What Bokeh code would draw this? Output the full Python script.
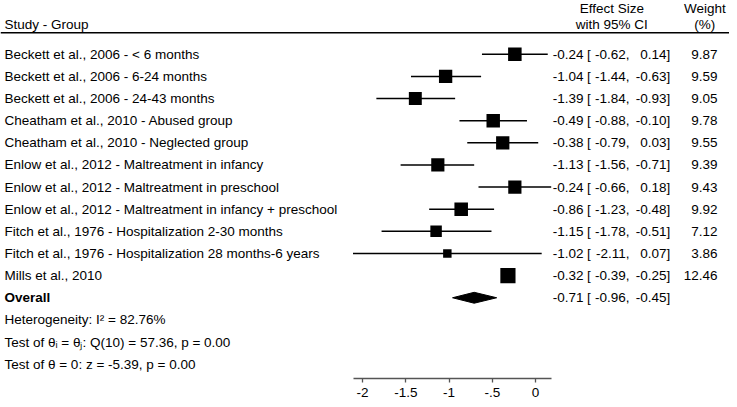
import numpy as np
from bokeh.plotting import figure
from bokeh.models import Range1d, LinearAxis, FixedTicker, Span, ColumnDataSource
from bokeh.core.properties import value
from bokeh.embed import file_html
from bokeh.resources import INLINE

# ---------------- data ----------------
studies = [
    "Beckett et al., 2006 - < 6 months",
    "Beckett et al., 2006 - 6-24 months",
    "Beckett et al., 2006 - 24-43 months",
    "Cheatham et al., 2010 - Abused group",
    "Cheatham et al., 2010 - Neglected group",
    "Enlow et al., 2012 - Maltreatment in infancy",
    "Enlow et al., 2012 - Maltreatment in preschool",
    "Enlow et al., 2012 - Maltreatment in infancy + preschool",
    "Fitch et al., 1976 - Hospitalization 2-30 months",
    "Fitch et al., 1976 - Hospitalization 28 months-6 years",
    "Mills et al., 2010",
]
effect = [-0.24, -1.04, -1.39, -0.49, -0.38, -1.13, -0.24, -0.86, -1.15, -1.02, -0.32]
ci_low = [-0.62, -1.44, -1.84, -0.88, -0.79, -1.56, -0.66, -1.23, -1.78, -2.11, -0.39]
ci_high = [0.14, -0.63, -0.93, -0.10, 0.03, -0.71, 0.18, -0.48, -0.51, 0.07, -0.25]
weights = [9.87, 9.59, 9.05, 9.78, 9.55, 9.39, 9.43, 9.92, 7.12, 3.86, 12.46]

overall_label = "Overall"
overall_effect = -0.71
overall_low = -0.96
overall_high = -0.45

footer_lines = [
    "Heterogeneity: I\u00b2 = 82.76%",
    "Test of \u03b8\u1d62 = \u03b8\u2c7c: Q(10) = 57.36, p = 0.00",
    "Test of \u03b8 = 0: z = -5.39, p = 0.00",
]

tick_values = [-2, -1.5, -1, -0.5, 0]
tick_labels = ["-2", "-1.5", "-1", "-.5", "0"]

# ---------------- geometry (figure pixels) ----------------
W, H = 729, 399
HS = W / 737.0         # horizontal squeeze of the reference layout
VSCALE = 0.985         # vertical squeeze of the reference layout
ZERO_PX = 541.0 * HS   # x pixel of effect 0
PX_PER_UNIT = 87.5 * HS
FRAME_H = 381          # frame height (axis panel below)
ROW0_PX = 2 + 53 * VSCALE
ROW_STEP = 22.65 * VSCALE
FONT = "Liberation Sans"
FS = "13.5px"


def rx(px):
    return px * HS


def xd(px):
    return (rx(px) - ZERO_PX) / PX_PER_UNIT


def yd(py):
    return (py - ROW0_PX) / ROW_STEP


def ref_y(py):
    return 2 + (py - 2) * VSCALE


p = figure(
    width=W, height=H,
    x_range=Range1d((0 - ZERO_PX) / PX_PER_UNIT, (W - ZERO_PX) / PX_PER_UNIT),
    y_range=Range1d(start=yd(FRAME_H), end=yd(0)),
    x_axis_type=None, y_axis_type=None,
    output_backend="svg", toolbar_location=None,
    min_border=0, min_border_left=0, min_border_right=0, min_border_top=0,
)
p.outline_line_color = None
p.background_fill_color = "white"
p.border_fill_color = "white"

axis = LinearAxis(
    bounds=(min(ci_low), max(ci_high)),
    ticker=FixedTicker(ticks=tick_values),
    major_label_overrides={k: v for k, v in zip(tick_values, tick_labels)},
)
axis.axis_line_color = "#555555"
axis.axis_line_width = 1.3
axis.major_tick_line_color = "#555555"
axis.major_tick_line_width = 1.3
axis.major_tick_in = 0
axis.major_tick_out = 4
axis.minor_tick_line_color = None
axis.major_label_standoff = 5
axis.major_label_text_font = FONT
axis.major_label_text_font_size = FS
axis.major_label_text_color = "black"
p.add_layout(axis, "below")

n = len(studies)
rows = list(range(n))

common = dict(text_baseline="middle", text_font=value(FONT), text_font_size=FS, text_color="black")

# header
p.add_layout(Span(location=yd(ref_y(33)), dimension="width", line_color="black", line_width=1.5))
hdr = ColumnDataSource(dict(
    x=[xd(4), xd(618), xd(618), xd(712), xd(712)],
    y=[yd(ref_y(25)), yd(ref_y(8.5)), yd(ref_y(25)), yd(ref_y(8.5)), yd(ref_y(25))],
    t=["Study - Group", "Effect Size", "with 95% CI", "Weight", "(%)"],
    a=["left", "center", "center", "center", "center"],
))
p.text(x="x", y="y", text="t", text_align="a", source=hdr, **common)

# CI lines and squares
src = ColumnDataSource(dict(
    y=rows, es=effect, lo=ci_low, hi=ci_high,
    size=[4.3 * np.sqrt(w) for w in weights],
    label=studies,
    w_t=[f"{v:.2f}" for v in weights],
))
p.segment(x0="lo", y0="y", x1="hi", y1="y", source=src, line_color="black", line_width=1.5)
p.scatter(x="es", y="y", size="size", marker="square", source=src,
          fill_color="black", line_color=None)

# overall diamond
oy = n
dh = 5.5 / ROW_STEP
p.patch(x=[overall_low, overall_effect, overall_high, overall_effect],
        y=[oy, oy - dh, oy, oy + dh], fill_color="black", line_color="black", line_width=1)

# study labels
p.text(x=xd(4), y="y", text="label", source=src, text_align="left", **common)

# effect size columns (studies + overall)
col = ColumnDataSource(dict(
    y=rows + [oy],
    es_t=[f"{v:.2f}" for v in effect] + [f"{overall_effect:.2f}"],
    lo_t=[f"{v:.2f}," for v in ci_low] + [f"{overall_low:.2f},"],
    hi_t=[f"{v:.2f}]" for v in ci_high] + [f"{overall_high:.2f}]"],
    br=["["] * (n + 1),
))
p.text(x=xd(589.5), y="y", text="es_t", source=col, text_align="right", **common)
p.text(x=xd(593), y="y", text="br", source=col, text_align="left", **common)
p.text(x=xd(636), y="y", text="lo_t", source=col, text_align="right", **common)
p.text(x=xd(677), y="y", text="hi_t", source=col, text_align="right", **common)
p.text(x=xd(725), y="y", text="w_t", source=src, text_align="right", **common)

# footer
p.text(x=[xd(4)], y=[oy], text=[overall_label], text_align="left", text_font_style="bold",
       text_baseline="middle", text_font=value(FONT), text_font_size=FS, text_color="black")
p.text(x=[xd(4)] * len(footer_lines), y=[oy + 1 + i for i in range(len(footer_lines))],
       text=footer_lines, text_align="left", **common)

open("out.html", "w").write(file_html(p, INLINE))
